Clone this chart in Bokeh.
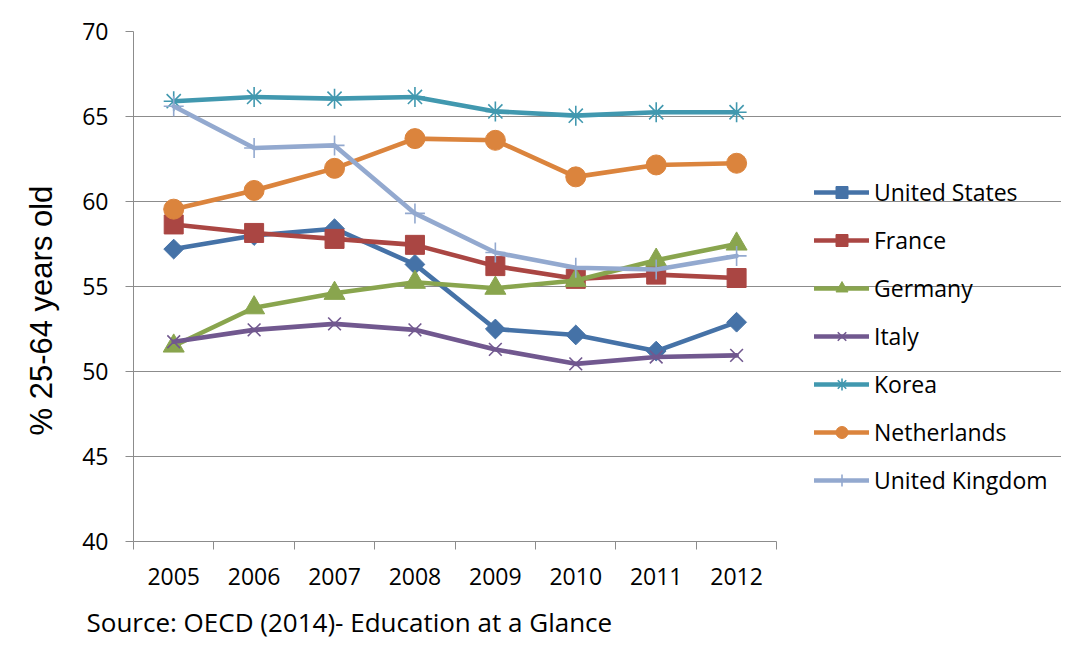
import numpy as np
from bokeh.plotting import figure
from bokeh.models import (Range1d, FixedTicker, BasicTickFormatter, Legend, LegendItem, Title)
from bokeh.embed import file_html
from bokeh.resources import INLINE

# ---- data ----
years = [2005, 2006, 2007, 2008, 2009, 2010, 2011, 2012]
united_states = [57.2, 58.0, 58.4, 56.3, 52.5, 52.15, 51.2, 52.9]
france = [58.65, 58.15, 57.8, 57.45, 56.2, 55.45, 55.7, 55.5]
germany = [51.5, 53.75, 54.6, 55.25, 54.9, 55.35, 56.55, 57.5]
italy = [51.75, 52.45, 52.8, 52.45, 51.3, 50.45, 50.85, 50.95]
korea = [65.9, 66.15, 66.05, 66.15, 65.3, 65.05, 65.25, 65.25]
netherlands = [59.55, 60.65, 61.95, 63.7, 63.6, 61.45, 62.15, 62.25]
united_kingdom = [65.6, 63.15, 63.3, 59.3, 57.0, 56.1, 56.0, 56.8]

series_names = ["United States", "France", "Germany", "Italy", "Korea",
                "Netherlands", "United Kingdom"]
series_values = [united_states, france, germany, italy, korea, netherlands, united_kingdom]
series_colors = ["#4572A7", "#AA4643", "#89A54E", "#71588F", "#4198AF", "#DB843D", "#93A9CF"]

y_ticks = [40, 45, 50, 55, 60, 65, 70]
y_title = "% 25-64 years old"
source_text = "Source: OECD (2014)- Education at a Glance"

GRID = "#8C8C8C"
FONT = "Open Sans"

# layout: plotting area 644 px wide for the 8 years; frame extends to the right
# edge so the legend can sit inside it
W, H = 1061, 653
LEFT, TOP, BOTTOM = 132, 31, 110
AXIS_PX = 644
frame_w = W - LEFT
x0 = years[0] - 0.5
x1 = years[-1] + 0.5
x_end = x0 + (x1 - x0) * frame_w / AXIS_PX

p = figure(width=W, height=H, output_backend="svg", toolbar_location=None,
           x_range=Range1d(x0, x_end),
           y_range=Range1d(y_ticks[0], y_ticks[-1]),
           min_border_left=LEFT, min_border_right=0,
           min_border_top=TOP, min_border_bottom=BOTTOM)
p.outline_line_color = None
p.background_fill_color = "white"
p.border_fill_color = "white"

# y axis
p.yaxis.ticker = FixedTicker(ticks=y_ticks)
p.yaxis.major_tick_out = 8
p.yaxis.major_tick_in = 0
p.yaxis.minor_tick_line_color = None
p.yaxis.axis_line_color = GRID
p.yaxis.major_tick_line_color = GRID
p.yaxis.major_label_text_font = FONT
p.yaxis.major_label_text_font_size = "23px"
p.yaxis.major_label_text_color = "black"
p.yaxis.major_label_standoff = 17

# x axis: labels at centers, ticks at category boundaries
bounds = [y - 0.5 for y in years] + [years[-1] + 0.5]
p.xaxis.ticker = FixedTicker(ticks=years, minor_ticks=bounds)
p.xaxis.formatter = BasicTickFormatter(use_scientific=False)
p.xaxis.bounds = (x0, x1)
p.xaxis.major_tick_out = 0
p.xaxis.major_tick_in = 0
p.xaxis.minor_tick_out = 8
p.xaxis.minor_tick_in = 0
p.xaxis.minor_tick_line_color = GRID
p.xaxis.axis_line_color = GRID
p.xaxis.major_label_text_font = FONT
p.xaxis.major_label_text_font_size = "23px"
p.xaxis.major_label_text_color = "black"
p.xaxis.major_label_standoff = 18

p.xgrid.visible = False
p.ygrid.ticker = FixedTicker(ticks=y_ticks)
p.ygrid.bounds = (x0, x1)
p.ygrid.grid_line_color = GRID
p.ygrid.grid_line_width = 1

markers = [
    dict(marker="square", size=14, angle=np.pi / 4),
    dict(marker="square", size=19),
    dict(marker="triangle", size=21),
    dict(marker="x", size=18, line_width=1.6),
    dict(marker="asterisk", size=20, line_width=1.6),
    dict(marker="circle", size=20),
    dict(marker="cross", size=20, line_width=1.6),
]

items = []
for name, vals, col, mk in zip(series_names, series_values, series_colors, markers):
    lr = p.line(years, vals, line_color=col, line_width=4.6, line_join="round", line_cap="round")
    sr = p.scatter(years, vals, color=col, **mk)
    items.append(LegendItem(label=name, renderers=[lr, sr]))

legend = Legend(items=items, location=(813 - LEFT, 44.6), orientation="vertical",
                background_fill_alpha=0, border_line_alpha=0, padding=0, margin=0,
                spacing=16, glyph_height=30, glyph_width=55, label_height=30,
                label_standoff=5, label_text_font=FONT, label_text_font_size="23px",
                label_text_color="black")
p.add_layout(legend)

p.add_layout(Title(text=y_title, align="left", offset=106, standoff=42,
                   text_font="Liberation Sans", text_font_size="31px",
                   text_font_style="normal", text_color="black"), "left")
p.add_layout(Title(text=source_text, align="left", offset=-47, standoff=28,
                   text_font=FONT, text_font_size="26px",
                   text_font_style="normal", text_color="black"), "below")

open("out.html", "w").write(file_html(p, INLINE))
